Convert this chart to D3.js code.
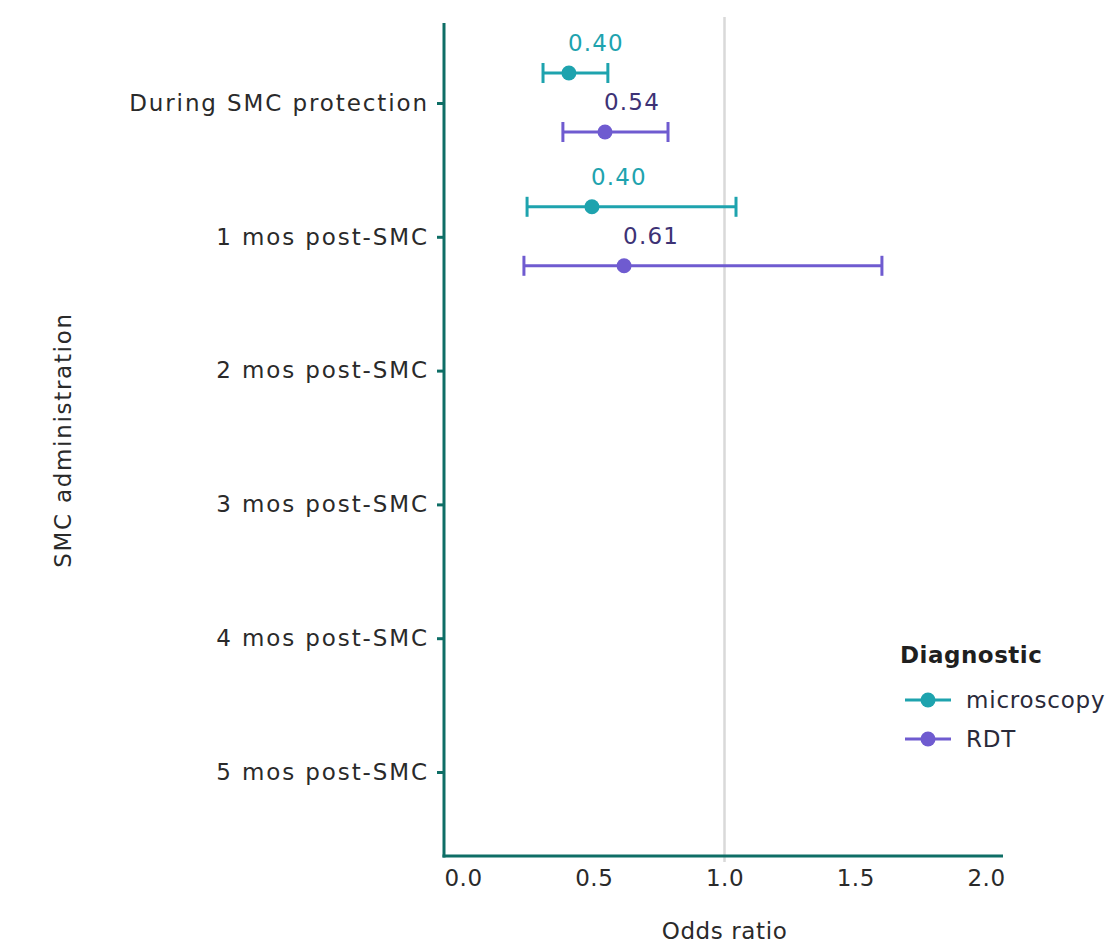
<!doctype html>
<html lang="en">
<head>
  <meta charset="utf-8">
  <title>SMC odds ratio</title>
  <script src="https://d3js.org/d3.v7.min.js"></script>
  <style>
    body { margin: 0; background: #fff; }
    text { font-family: "DejaVu Sans", sans-serif; }
  </style>
</head>
<body>
  <svg width="1108" height="944"></svg>
  <script>
    // categories on the y axis, top to bottom
    var periods = ["During SMC protection", "1 mos post-SMC", "2 mos post-SMC",
                   "3 mos post-SMC", "4 mos post-SMC", "5 mos post-SMC"];
    var diagnostics = ["microscopy", "RDT"];
    var xTicks = [0, 0.5, 1, 1.5, 2];

    // estimates (only the first two periods have data)
    var microOR    = [0.405, 0.493];
    var microLow   = [0.306, 0.245];
    var microHigh  = [0.554, 1.044];
    var microLabel = ["0.40", "0.40"];

    var rdtOR    = [0.543, 0.616];
    var rdtLow   = [0.382, 0.233];
    var rdtHigh  = [0.784, 1.602];
    var rdtLabel = ["0.54", "0.61"];

    var colors = { microscopy: "#1ea3ae", RDT: "#6f5bd0" };
    var labelColors = { microscopy: "#1ea3ae", RDT: "#3d3275" };
    var offsets = { microscopy: -30, RDT: 29 };

    var rows = [];
    microOR.forEach(function(v, i) {
      rows.push({ period: periods[i], diag: "microscopy", or: v, lo: microLow[i], hi: microHigh[i], label: microLabel[i] });
    });
    rdtOR.forEach(function(v, i) {
      rows.push({ period: periods[i], diag: "RDT", or: v, lo: rdtLow[i], hi: rdtHigh[i], label: rdtLabel[i] });
    });

    var svg = d3.select("svg");
    var axisColor = "#0e6e66";
    var textColor = "#2a2a2a";

    var x = d3.scaleLinear().domain([0, 2]).range([463, 986]);
    var y = d3.scalePoint().domain(periods).range([103, 772]);
    var pLeft = 444, pRight = 1003, pTop = 23, pBottom = 856;

    // reference line at OR = 1
    svg.append("line")
        .attr("x1", x(1)).attr("x2", x(1))
        .attr("y1", 17).attr("y2", 862)
        .attr("stroke", "#d9d9d9").attr("stroke-width", 2.5);

    // y axis
    var yAxis = svg.append("g")
        .attr("transform", "translate(" + pLeft + ",0)")
        .call(d3.axisLeft(y).tickSize(7).tickPadding(8));
    yAxis.select(".domain").remove();
    yAxis.selectAll(".tick line").attr("stroke", axisColor).attr("stroke-width", 3);
    yAxis.selectAll(".tick text")
        .attr("fill", textColor).attr("font-size", 23).attr("font-family", null)
        .attr("letter-spacing", 1.9);
    svg.append("line")
        .attr("x1", pLeft).attr("x2", pLeft).attr("y1", pTop).attr("y2", pBottom + 1.5)
        .attr("stroke", axisColor).attr("stroke-width", 3);

    // x axis
    var xAxis = svg.append("g")
        .attr("transform", "translate(0," + pBottom + ")")
        .call(d3.axisBottom(x).tickValues(xTicks).tickFormat(d3.format(".1f")).tickSize(0).tickPadding(14));
    xAxis.select(".domain").remove();
    xAxis.selectAll(".tick text")
        .attr("fill", textColor).attr("font-size", 23).attr("font-family", null)
        .attr("letter-spacing", 0.5);
    svg.append("line")
        .attr("x1", pLeft - 1.5).attr("x2", pRight).attr("y1", pBottom).attr("y2", pBottom)
        .attr("stroke", axisColor).attr("stroke-width", 3);

    // axis titles
    svg.append("text")
        .attr("x", (pLeft + pRight) / 2 + 1).attr("y", 939)
        .attr("text-anchor", "middle").attr("fill", textColor).attr("font-size", 23)
        .attr("letter-spacing", 0.6)
        .text("Odds ratio");
    svg.append("text")
        .attr("transform", "translate(71," + 440 + ") rotate(-90)")
        .attr("text-anchor", "middle").attr("fill", textColor).attr("font-size", 23)
        .attr("letter-spacing", 1.7)
        .text("SMC administration");

    // error bars, points and labels
    var g = svg.append("g");
    var marks = g.selectAll("g.mark").data(rows).enter().append("g")
        .attr("class", "mark")
        .attr("transform", function(d) { return "translate(0," + (y(d.period) + offsets[d.diag]) + ")"; });

    marks.append("line")
        .attr("x1", function(d) { return x(d.lo); })
        .attr("x2", function(d) { return x(d.hi); })
        .attr("stroke", function(d) { return colors[d.diag]; })
        .attr("stroke-width", 3);
    marks.selectAll("line.cap")
        .data(function(d) { return [{ v: d.lo, diag: d.diag }, { v: d.hi, diag: d.diag }]; })
        .enter().append("line")
        .attr("class", "cap")
        .attr("x1", function(d) { return x(d.v); })
        .attr("x2", function(d) { return x(d.v); })
        .attr("y1", -10).attr("y2", 10)
        .attr("stroke", function(d) { return colors[d.diag]; })
        .attr("stroke-width", 3);
    marks.append("circle")
        .attr("cx", function(d) { return x(d.or); })
        .attr("r", 7.5)
        .attr("fill", function(d) { return colors[d.diag]; });
    marks.append("text")
        .attr("x", function(d) { return x(d.or) + 27; })
        .attr("y", -22)
        .attr("text-anchor", "middle")
        .attr("font-size", 23)
        .attr("letter-spacing", 1.2)
        .attr("fill", function(d) { return labelColors[d.diag]; })
        .text(function(d) { return d.label; });

    // legend
    var legend = svg.append("g").attr("transform", "translate(900,663)");
    legend.append("text")
        .attr("font-size", 23).attr("font-weight", "bold").attr("fill", "#1f1f1f")
        .attr("letter-spacing", 0.5)
        .text("Diagnostic");
    var items = legend.selectAll("g.item").data(diagnostics).enter().append("g")
        .attr("class", "item")
        .attr("transform", function(d, i) { return "translate(0," + (37 + i * 39) + ")"; });
    items.append("line")
        .attr("x1", 5).attr("x2", 51)
        .attr("stroke", function(d) { return colors[d]; }).attr("stroke-width", 3);
    items.append("circle")
        .attr("cx", 28).attr("r", 7.5)
        .attr("fill", function(d) { return colors[d]; });
    items.append("text")
        .attr("x", 66).attr("dy", "0.35em")
        .attr("font-size", 23).attr("fill", "#2a2a3a")
        .attr("letter-spacing", 0.8)
        .text(function(d) { return d; });
  </script>
</body>
</html>
